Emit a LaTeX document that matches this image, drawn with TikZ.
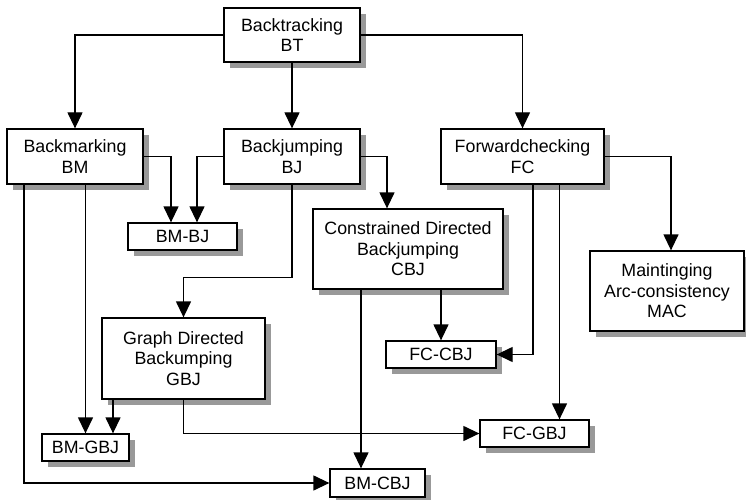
\documentclass[tikz,border=0pt]{standalone}
\usepackage{fontspec}
\setmainfont{Liberation Sans}
\usetikzlibrary{arrows.meta, shadows}

\begin{document}
\begin{tikzpicture}[x=1pt, y=-1pt,
    algo/.style={draw, fill=white, line width=1.3pt, inner sep=0pt, align=center,
        font=\fontsize{17.8}{20.5}\selectfont,
        drop shadow={shadow xshift=6pt, shadow yshift=-6pt, fill=black!40, opacity=1}},
    link/.style={line width=1.3pt, -{Triangle[length=16pt, width=15pt]}}]
\useasboundingbox (0,0) rectangle (746,500);

% Boxes
\node[algo, minimum width=136pt, minimum height=54pt] (bt) at (292,35) {Backtracking\\BT};
\node[algo, minimum width=136pt, minimum height=55pt] (bm) at (75,156.5) {Backmarking\\BM};
\node[algo, minimum width=136pt, minimum height=55pt] (bj) at (292,156.5) {Backjumping\\BJ};
\node[algo, minimum width=163pt, minimum height=55pt] (fc) at (522.5,156.5) {Forwardchecking\\FC};
\node[algo, minimum width=109pt, minimum height=27pt] (bm-bj) at (182.5,236.5) {BM-BJ};
\node[algo, minimum width=190pt, minimum height=80pt] (cbj) at (408,249) {Constrained Directed\\Backjumping\\CBJ};
\node[algo, minimum width=154pt, minimum height=80pt] (mac) at (667,291) {Maintinging\\Arc-consistency\\MAC};
\node[algo, minimum width=163pt, minimum height=81pt] (gbj) at (183.5,358.5) {Graph Directed\\Backumping\\GBJ};
\node[algo, minimum width=110pt, minimum height=27pt] (fc-cbj) at (441,354.5) {FC-CBJ};
\node[algo, minimum width=109pt, minimum height=27pt] (fc-gbj) at (534.5,433.5) {FC-GBJ};
\node[algo, minimum width=87pt, minimum height=27pt] (bm-gbj) at (85.5,447.5) {BM-GBJ};
\node[algo, minimum width=95pt, minimum height=28pt] (bm-cbj) at (377.5,483) {BM-CBJ};

% Entry points on the boxes
\coordinate (bm-bj-a) at ([xshift=-11.5pt]bm-bj.north);
\coordinate (bm-bj-b) at ([xshift=14.5pt]bm-bj.north);
\coordinate (cbj-in) at ([xshift=-21pt]cbj.north);
\coordinate (gbj-bend) at ([yshift=40pt]gbj.north);
\coordinate (bm-gbj-b) at ([xshift=27.5pt]bm-gbj.north);
\coordinate (bm-out) at ([xshift=-51pt]bm.south);
\coordinate (bm-cbj-in) at ([xshift=-16.5pt]bm-cbj.north);
\coordinate (fc-out) at ([xshift=10.5pt]fc.south);
\coordinate (fc-gbj-in) at ([xshift=25pt]fc-gbj.north);
\coordinate (mac-in) at ([xshift=4pt]mac.north);

% Connectors
\draw[link] (bt.west) -| (bm.north);
\draw[link] (bt.south) -- (bj.north);
\draw[link] (bt.east) -| (fc.north);

\draw[link] (bm.east) -| (bm-bj-a);
\draw[link] (bj.west) -| (bm-bj-b);
\draw[link] (bj.east) -| (cbj-in);
\draw[link] (bj.south) |- (gbj-bend) -- (gbj.north);

\draw[link] (bm.south -| bm-gbj.north) -- (bm-gbj.north);
\draw[link] (bm-out) |- (bm-cbj.west);
\draw[link] (gbj.south -| bm-gbj-b) -- (bm-gbj-b);
\draw[link] (gbj.south) |- (fc-gbj.west);

\draw[link] (cbj.south -| bm-cbj-in) -- (bm-cbj-in);
\draw[link] (cbj.south -| fc-cbj.north) -- (fc-cbj.north);

\draw[link] (fc-out) |- (fc-cbj.east);
\draw[link] (fc.south -| fc-gbj-in) -- (fc-gbj-in);
\draw[link] (fc.east) -| (mac-in);
\end{tikzpicture}
\end{document}
